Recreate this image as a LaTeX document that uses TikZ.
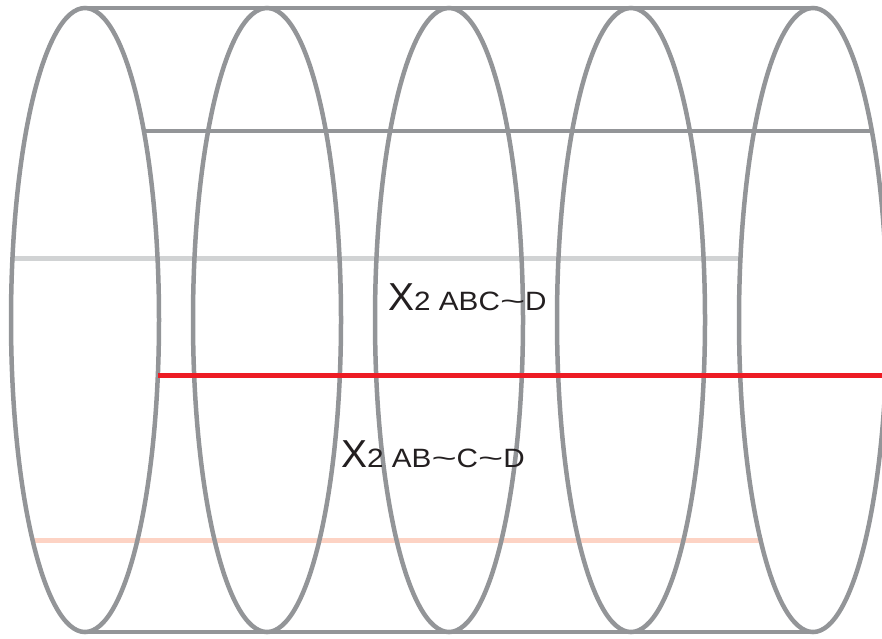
\documentclass[tikz,border=0pt]{standalone}
\usepackage{fontspec}
\setmainfont{Liberation Sans}
\usepackage{graphicx}
\usetikzlibrary{positioning}
\definecolor{cylgris}{HTML}{939598}
\definecolor{cylgrispale}{HTML}{D1D3D4}
\definecolor{cylrouge}{HTML}{ED1C24}
\definecolor{cylpeche}{HTML}{FDD3C4}
\definecolor{cylnoir}{HTML}{231F20}
\newcommand{\tld}{\scalebox{1.45}[1]{\textasciitilde}}
\newcommand{\grandX}{{\fontsize{39}{39}\selectfont X}}
\newcommand{\indice}[1]{\scalebox{1.12}[1]{#1}}

\begin{document}
\begin{tikzpicture}[x=1pt,y=-1pt,
    every node/.style={inner sep=0pt,text=cylnoir,font=\fontsize{26.5}{26.5}\selectfont}]
  % Cadre
  \useasboundingbox (0,0) rectangle (882,638);
  \clip (0,0) rectangle (882,638);
  % Lignes pales (derriere)
  \draw[cylgrispale,line width=5] (12.5,258) -- (740.5,258);
  \draw[cylpeche,line width=5] (32.5,540) -- (763,540);
  % Cylindre : generatrices
  \draw[cylgris,line width=4.5] (85,8) -- (813,8);
  \draw[cylgris,line width=4.5] (85,632) -- (813,632);
  \draw[cylgris,line width=4.5] (144,131) -- (872,131);
  % Sections elliptiques
  \foreach \cx in {85,267,449,631,813}
    \draw[cylgris,line width=4.5] (\cx,320) ellipse [x radius=74,y radius=312];
  % Ligne rouge
  \draw[cylrouge,line width=5] (158,375) -- (882,375);
  % Etiquettes
  \node[anchor=base west] (etiqABC) at (388,310) {\grandX\indice{2 ABC\tld D}};
  \node[anchor=base west] (etiqAB) at (341,467) {\grandX\indice{2 AB\tld C\tld D}};
\end{tikzpicture}
\end{document}
